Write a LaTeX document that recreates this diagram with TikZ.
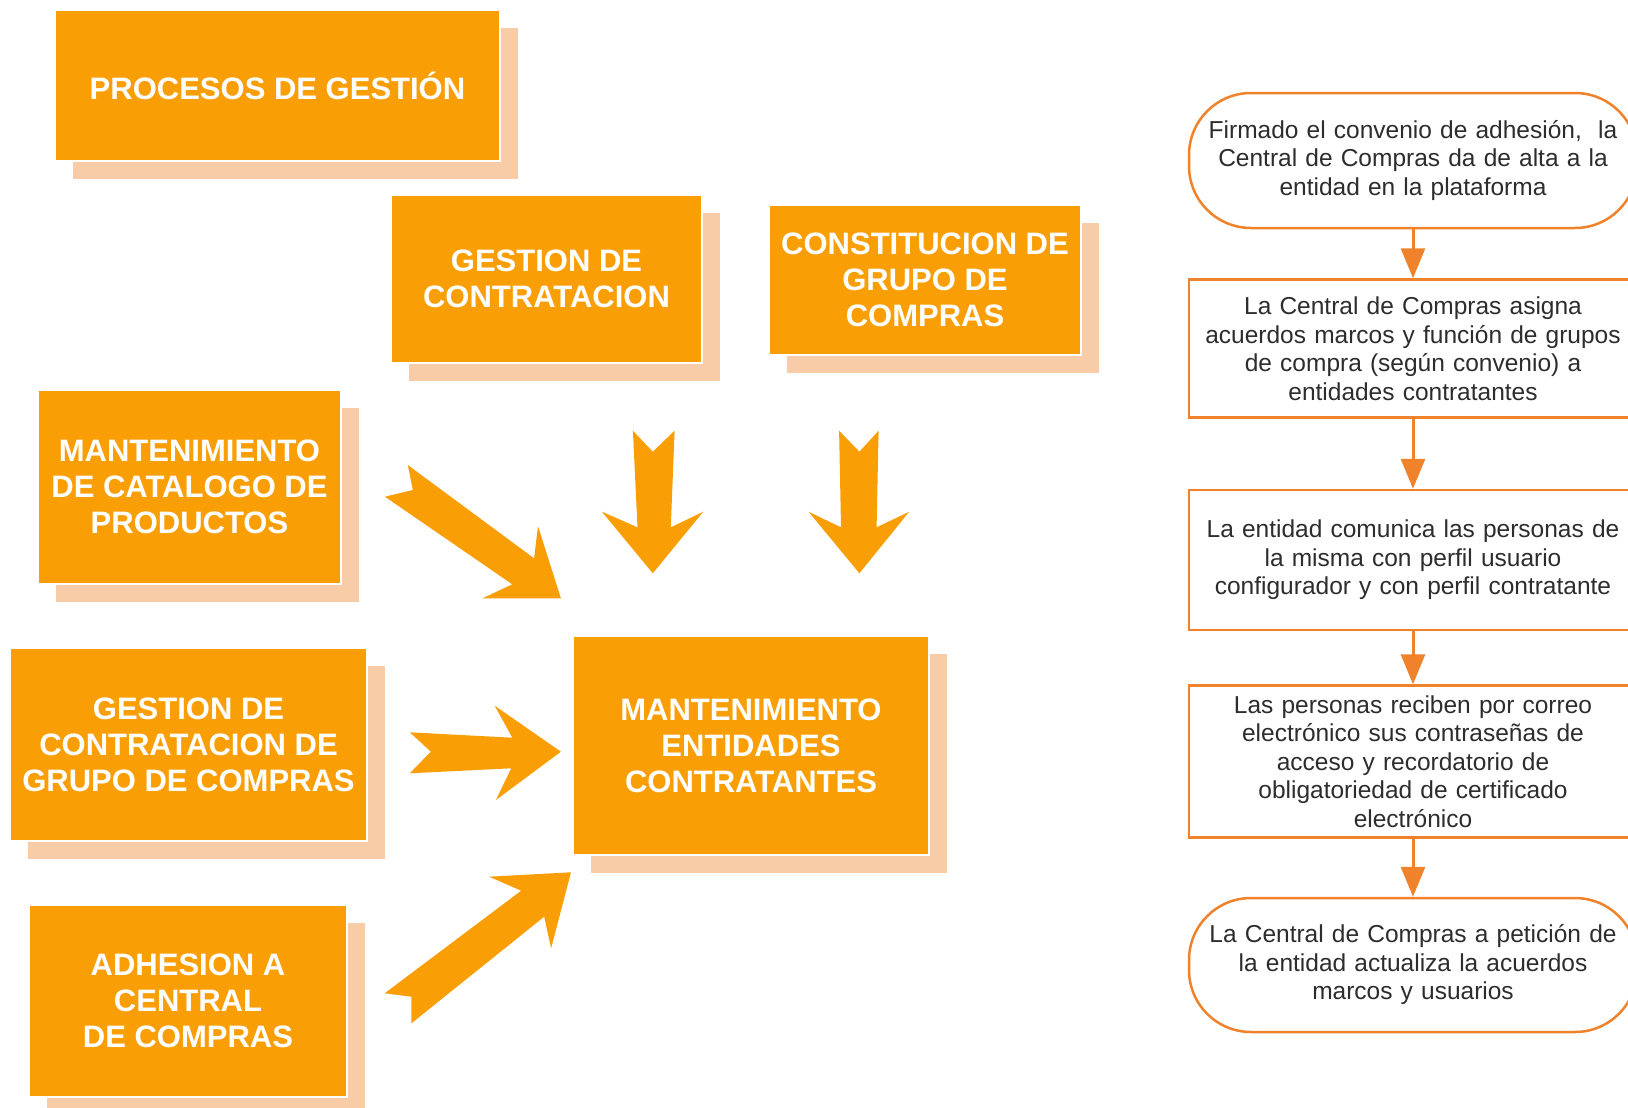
\documentclass[tikz,border=0pt]{standalone}
\usepackage{fontspec}
\setmainfont{Liberation Sans}
\usepackage{tikz}
\usetikzlibrary{arrows.meta,positioning,shadows}

\definecolor{boxorange}{RGB}{250,158,6}
\definecolor{shadowpeach}{RGB}{249,204,168}
\definecolor{flowline}{RGB}{239,130,42}
\definecolor{flowtext}{RGB}{45,45,45}

\begin{document}
\begin{tikzpicture}[x=1pt,y=-1pt,>={Triangle[width=24pt,length=30pt]},node distance=50pt]
  \tikzstyle{proc}=[fill=boxorange,draw=white,line width=1.2pt,text=white,align=center,
    font=\fontsize{31}{36}\selectfont\bfseries,inner sep=4pt,
    drop shadow={shadow xshift=18pt,shadow yshift=-18pt,fill=shadowpeach,draw=none,opacity=1}]
  \tikzstyle{flow}=[draw=flowline,line width=2.5pt,fill=white,text=flowtext,align=center,
    text width=444pt,inner sep=2pt,font=\fontsize{24.5}{28.5}\selectfont]
  \tikzstyle{term}=[flow,rounded corners=62pt]
  \tikzstyle{link}=[->,draw=flowline,line width=3pt]
  \tikzstyle{block}=[fill=boxorange]

  \useasboundingbox (0,0) rectangle (1628,1108);
  \clip (0,0) rectangle (1628,1108);

  % process boxes
  \node[proc,minimum width=445pt,minimum height=151pt] (procesos)     at (277.5,85.5) {PROCESOS DE GESTIÓN};
  \node[proc,minimum width=311pt,minimum height=168pt] (contratacion) at (546.5,279)  {GESTION DE\\CONTRATACION};
  \node[proc,minimum width=312pt,minimum height=150pt] (constitucion) at (925,280)    {CONSTITUCION DE\\GRUPO DE\\COMPRAS};
  \node[proc,minimum width=303pt,minimum height=194pt] (catalogo)     at (189.5,487)  {MANTENIMIENTO\\DE CATALOGO DE\\PRODUCTOS};
  \node[proc,minimum width=357pt,minimum height=193pt] (grupo)        at (188.5,744.5) {GESTION DE\\CONTRATACION DE\\GRUPO DE COMPRAS};
  \node[proc,minimum width=318pt,minimum height=192pt] (adhesion)     at (188,1001)   {ADHESION A\\CENTRAL\\DE COMPRAS};
  \node[proc,minimum width=356pt,minimum height=219pt] (entidades)    at (751,745.5)  {MANTENIMIENTO\\ENTIDADES\\CONTRATANTES};

  % block arrows into the centre box
  \fill[block] (407.8,465) -- (412.8,490) -- (384.9,496.7) -- (512.3,584.3) -- (482.5,598.3)
    -- (560.9,598.3) -- (538.0,526) -- (534.1,558.3) -- cycle;
  \fill[block] (632.9,430.7) -- (652.8,451.7) -- (674.6,430.7) -- (670.8,527.3) -- (703.3,511.7)
    -- (652.8,573.3) -- (601.9,511.7) -- (637.5,527.3) -- cycle;
  \fill[block] (839.1,430.7) -- (859.4,451.7) -- (878.6,430.7) -- (876.6,527.3) -- (909.2,511.7)
    -- (859.4,573.3) -- (808.5,511.7) -- (841.0,527.3) -- cycle;
  \fill[block] (409.8,732.3) -- (430.8,751.7) -- (409.8,773.3) -- (511.2,768.3) -- (495.9,800)
    -- (560.9,751.7) -- (494.7,705.7) -- (512.3,737.7) -- cycle;
  \fill[block] (384.6,993.3) -- (411.4,996.7) -- (411.4,1023.3) -- (544.2,916.7) -- (551.1,948.3)
    -- (571.0,872.3) -- (489.1,876.7) -- (521.2,890.7) -- cycle;

  % flow on the right
  \node[term,minimum height=135pt] (alta) at (1413,160.5)
    {Firmado el convenio de adhesión,\ \ la\\Central de Compras da de alta a la\\entidad en la plataforma};
  \node[flow,minimum height=138pt] (asigna) [below=49pt of alta]
    {La Central de Compras asigna\\acuerdos marcos y función de grupos\\de compra (según convenio) a\\entidades contratantes};
  \node[flow,minimum height=140pt] (comunica) [below=70pt of asigna]
    {La entidad comunica las personas de\\la misma con perfil usuario\\configurador y con perfil contratante};
  \node[flow,minimum height=152pt] (reciben) [below=53pt of comunica]
    {Las personas reciben por correo\\electrónico sus contraseñas de\\acceso y recordatorio de\\obligatoriedad de certificado\\electrónico};
  \node[term,minimum height=134pt] (actualiza) [below=58pt of reciben]
    {La Central de Compras a petición de\\la entidad actualiza la acuerdos\\marcos y usuarios};

  \path (alta)     edge[link] (asigna)
        (asigna)   edge[link] (comunica)
        (comunica) edge[link] (reciben)
        (reciben)  edge[link] (actualiza);
\end{tikzpicture}
\end{document}
